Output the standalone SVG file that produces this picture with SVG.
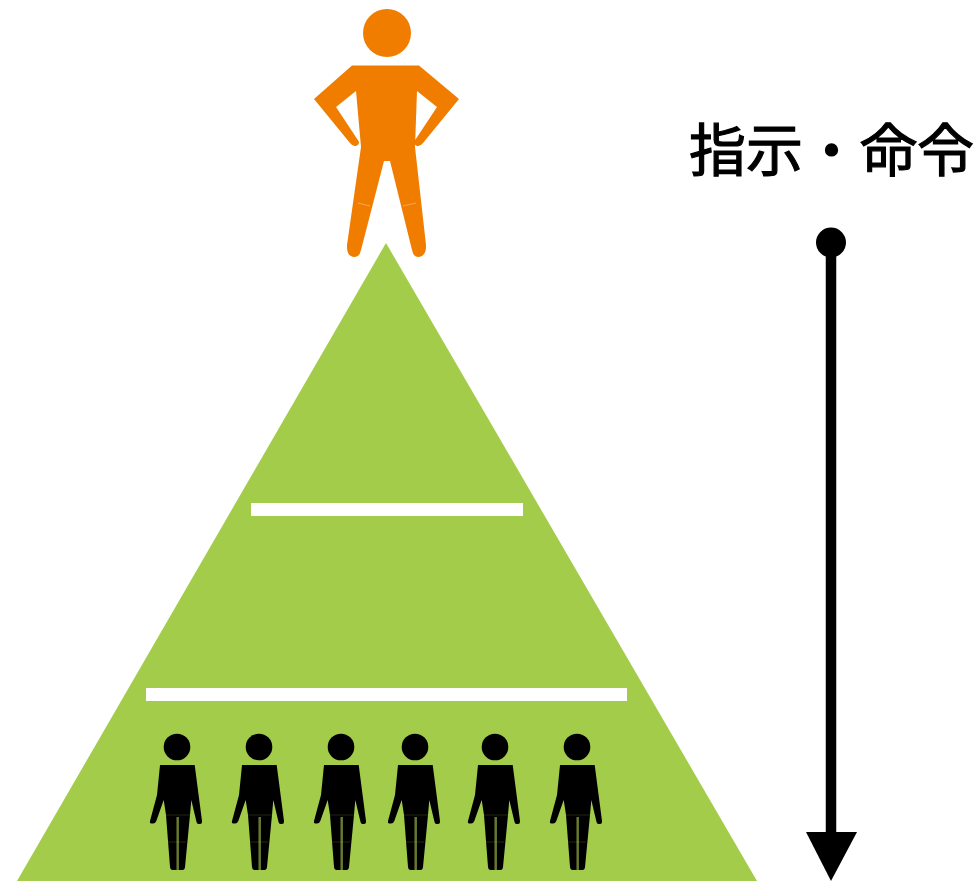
<svg xmlns="http://www.w3.org/2000/svg" width="979" height="881" viewBox="0 0 979 881">
<style>
.bar{fill:#fff}
.k{fill:#000}
.seam{stroke:#a2cc4a;stroke-opacity:.2;stroke-width:1;fill:none}
.gap{stroke:#66792f;stroke-width:2.500;fill:none}
.label{font-family:"Noto Sans CJK JP","Noto Sans CJK SC",sans-serif;font-size:57px;font-weight:400;fill:#000;stroke:#000;stroke-width:1.200}
</style>
<defs>
<g id="worker">
<circle cx="0" cy="22" r="13.3" class="k"/>
<path class="k" d="M-17 40H17.700L25 96Q25.300 99 23 99L21.500 99Q20 99 19.500 97L14.300 75L13 90L8 142Q7.700 145 5.500 145L-5 145Q-6.700 145 -7 142L-11 90L-13.300 75L-20.700 96Q-21.700 98.500 -24 98.500L-26 98.500Q-27.600 98 -27 96L-20 70Z"/>
<path class="gap" d="M.7 92V145"/>
<path class="seam" d="M-12 90H13M-9 117H9"/>
</g>
</defs>
<rect width="979" height="881" fill="#fff"/>
<g id="pyramid">
<polygon points="386,243 757,881 17,881" fill="#a2cc4a"/>
<rect class="bar" x="251" y="503" width="272" height="13"/>
<rect class="bar" x="146" y="688" width="481" height="13"/>
</g>
<g id="leader">
<circle cx="387" cy="33" r="24" fill="#f07d00"/>
<path fill="#f07d00" d="M352 65.500H419L459 99L423 143Q419.500 147.500 416 145.500Q413.500 144 414.500 141L437 107L417 91L415 147L426 245Q426.500 256 419 257Q413.500 257.500 412 250L390 161H384L361 250Q359.500 257.500 353.500 257Q346.500 256 347 245L361 147L356 91L336 107L358.500 141Q360 144 357 145.500Q353.500 147.500 350 143L314 99Z"/>
<path d="M358 203L370 206M403 206L416 203" stroke="#f9b066" stroke-width=".8" fill="none"/>
</g>
<g id="workers">
<use href="#worker" x="177" y="725"/>
<use href="#worker" x="259" y="725"/>
<use href="#worker" x="341" y="725"/>
<use href="#worker" x="415" y="725"/>
<use href="#worker" x="495" y="725"/>
<use href="#worker" x="577" y="725"/>
</g>
<g id="connectors">
<line x1="831" y1="243" x2="831" y2="835" stroke="#000" stroke-width="10.500"/>
<circle cx="831" cy="242.500" r="15" fill="#000"/>
<polygon points="806,832 857,832 831,881" fill="#000"/>
</g>
<g id="caption">
<text class="label" x="689" y="171">指示・命令</text>
</g>
</svg>
